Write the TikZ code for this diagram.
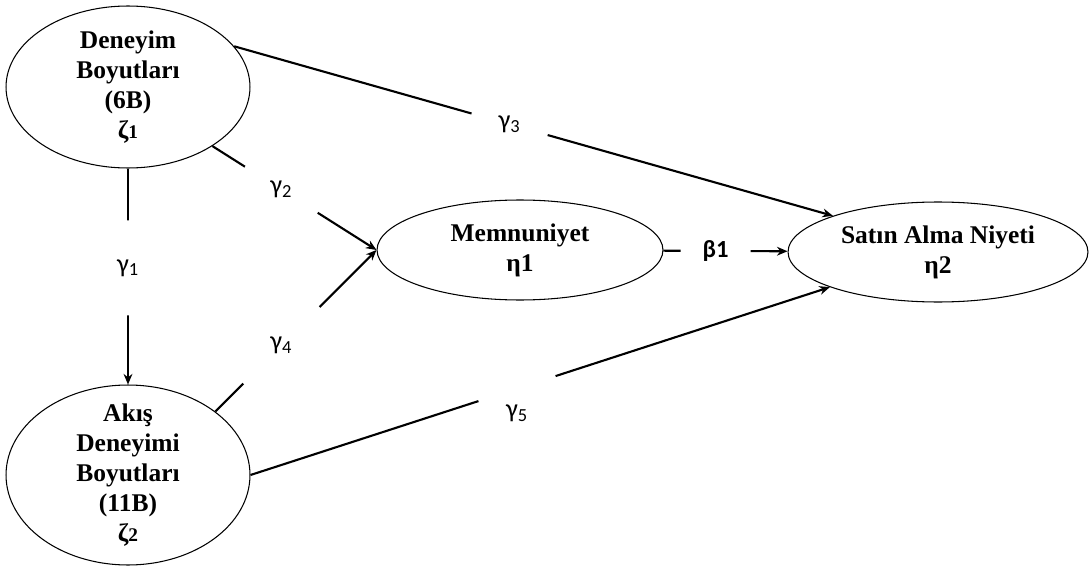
\documentclass[tikz,border=0pt]{standalone}
\usepackage{fontspec}
\setmainfont{Liberation Serif}
\newfontfamily\calibri{Carlito}
\usetikzlibrary{arrows.meta, shapes.geometric}

\begin{document}
\begin{tikzpicture}[
  x=0.02cm, y=-0.02cm,
  %-- construct styles ---------------------------------------------------
  construct/.style = {draw, ellipse, line width=0.6pt, inner sep=0pt},
  ctext/.style     = {font=\fontsize{14.5}{17}\selectfont\bfseries,
                      align=center, inner sep=0pt},
  %-- path styles --------------------------------------------------------
  arrow/.style     = {-{Stealth[length=6pt, width=5pt]}, line width=1.2pt},
  coef/.style      = {circle, fill=white, inner sep=0pt, minimum size=#1,
                      font=\calibri\fontsize{15}{17}\selectfont},
  glab/.style      = {inner sep=0pt, font=\calibri\fontsize{15}{17}\selectfont},
]
\useasboundingbox (0,0) rectangle (1092,571);

% ── Exogenous constructs ──────────────────────────────────────────────────────
\node[construct, minimum width=4.88cm, minimum height=3.24cm,
      label={[ctext]center:Deneyim\\Boyutları\\(6B)\\ζ{\fontsize{11}{11}\selectfont 1}}]
      (DB) at (128,87) {};
\node[construct, minimum width=4.88cm, minimum height=3.6cm,
      label={[ctext]center:Akış\\Deneyimi\\Boyutları\\(11B)\\ζ{\fontsize{11}{11}\selectfont 2}}]
      (AD) at (128,475) {};

% ── Endogenous constructs ─────────────────────────────────────────────────────
\node[construct, minimum width=5.72cm, minimum height=2.0cm,
      label={[ctext]center:Memnuniyet\\η1}] (MN) at (520,250) {};
\node[construct, minimum width=6.0cm, minimum height=2.0cm,
      label={[ctext]center:Satın Alma Niyeti\\η2}] (SN) at (938,252) {};

% ── Structural paths ──────────────────────────────────────────────────────────
\draw[arrow] (DB) -- node[coef=1.9cm, pos=0.46] {γ\textsubscript{1}} (AD);
\draw[arrow] (DB.-35) -- node[coef=1.72cm, pos=0.42] {γ\textsubscript{2}} (MN.west);
\draw[arrow] (DB.21) -- node[coef=1.58cm, pos=0.46] {γ\textsubscript{3}} (SN.161);
\draw[arrow] (AD.36) -- node[coef=2.16cm, pos=0.41] {γ\textsubscript{4}} (MN.west);
\draw[arrow] (AD.east) -- node[coef=1.62cm, pos=0.46,
             label={[glab, yshift=-0.5cm]center:γ\textsubscript{5}}] {} (SN.198);

% ── Memnuniyet -> Satın Alma Niyeti ───────────────────────────────────────────
\draw[arrow] (MN) -- node[coef=1.4cm, pos=0.42,
             font=\calibri\bfseries\fontsize{14}{16}\selectfont] {β1} (SN);

\end{tikzpicture}
\end{document}
